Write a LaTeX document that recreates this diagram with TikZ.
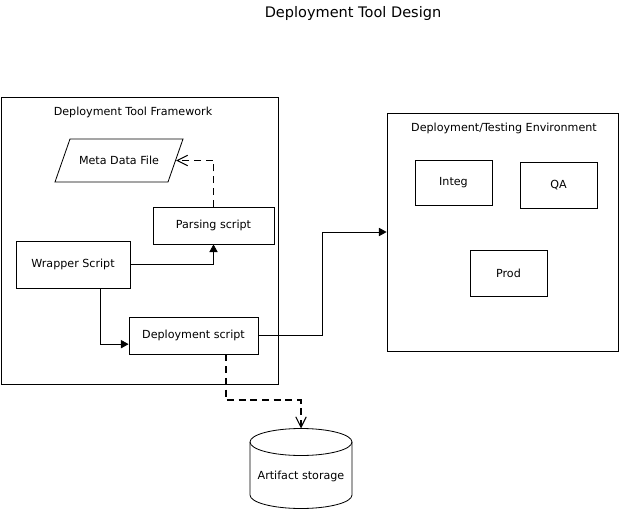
\documentclass[tikz,border=0pt]{standalone}
\usepackage{fontspec}
\setmainfont{DejaVu Sans}
\usetikzlibrary{arrows.meta}
\tikzset{
  box/.style={draw, line width=0.7pt, inner sep=0pt},
  flow/.style={line width=0.7pt, -{Triangle[length=6.5pt,width=7pt]}},
  dataflow/.style={line width=1.6pt, dash pattern=on 6pt off 4pt,
    -{Straight Barb[length=9pt,width=9pt,line width=0.9pt]}},
}
\begin{document}
\begin{tikzpicture}[x=0.03cm, y=-0.03cm, font=\fontsize{9.5}{11}\selectfont]
\useasboundingbox (0,0) rectangle (620,511);
\node (title) at (353,13) {\fontsize{12.4}{14}\selectfont Deployment Tool Design};
% tool framework
\node[box, minimum width=8.31cm, minimum height=8.61cm] (frame) at (139.5,240.5) {};
\node (framelabel) at (133,112) {Deployment Tool Framework};
\draw[line width=0.7pt] (70,139) -- (183,139) -- (168,182) -- (55,182) -- cycle;
\node (meta) at (119,160.5) {Meta Data File};
\coordinate (metaedge) at (176,160.5);
\node[box, minimum width=3.63cm, minimum height=1.11cm] (parse) at (213.5,225.5) {Parsing script};
\node[box, minimum width=3.42cm, minimum height=1.41cm] (wrap) at (73,264.5) {Wrapper Script};
\node[box, minimum width=3.87cm, minimum height=1.11cm] (deploy) at (193.5,335.5) {Deployment script};
% environment
\node[box, minimum width=6.93cm, minimum height=7.14cm] (env) at (502.5,232) {};
\node (envlabel) at (504,128) {Deployment/Testing Environment};
\node[box, minimum width=2.31cm, minimum height=1.35cm] (integ) at (453.5,182.5) {Integ};
\node[box, minimum width=2.31cm, minimum height=1.38cm] (qa) at (558.5,185) {QA};
\node[box, minimum width=2.31cm, minimum height=1.38cm] (prod) at (508.5,273) {Prod};
% artifact storage
\draw[line width=0.7pt] (250,442) -- (250,495)
  arc[start angle=180, end angle=360, x radius=1.53cm, y radius=0.405cm] -- (352,442);
\draw[line width=0.7pt] (301,442) ellipse[x radius=1.53cm, y radius=0.405cm];
\coordinate (storetop) at (301,428.5);
\node (store) at (301,476) {Artifact storage};
% connectors
\draw[dataflow] (parse.north) |- (metaedge);
\draw[flow] (wrap.east) -| (parse.south);
\draw[flow] ([xshift=0.81cm]wrap.south) |- ([yshift=-0.26cm]deploy.west);
\draw[flow] (deploy.east) -- ++(64,0) |- (env.west);
\draw[dataflow] ([xshift=0.975cm]deploy.south) -- ++(0,46) -| (storetop);
\end{tikzpicture}
\end{document}
